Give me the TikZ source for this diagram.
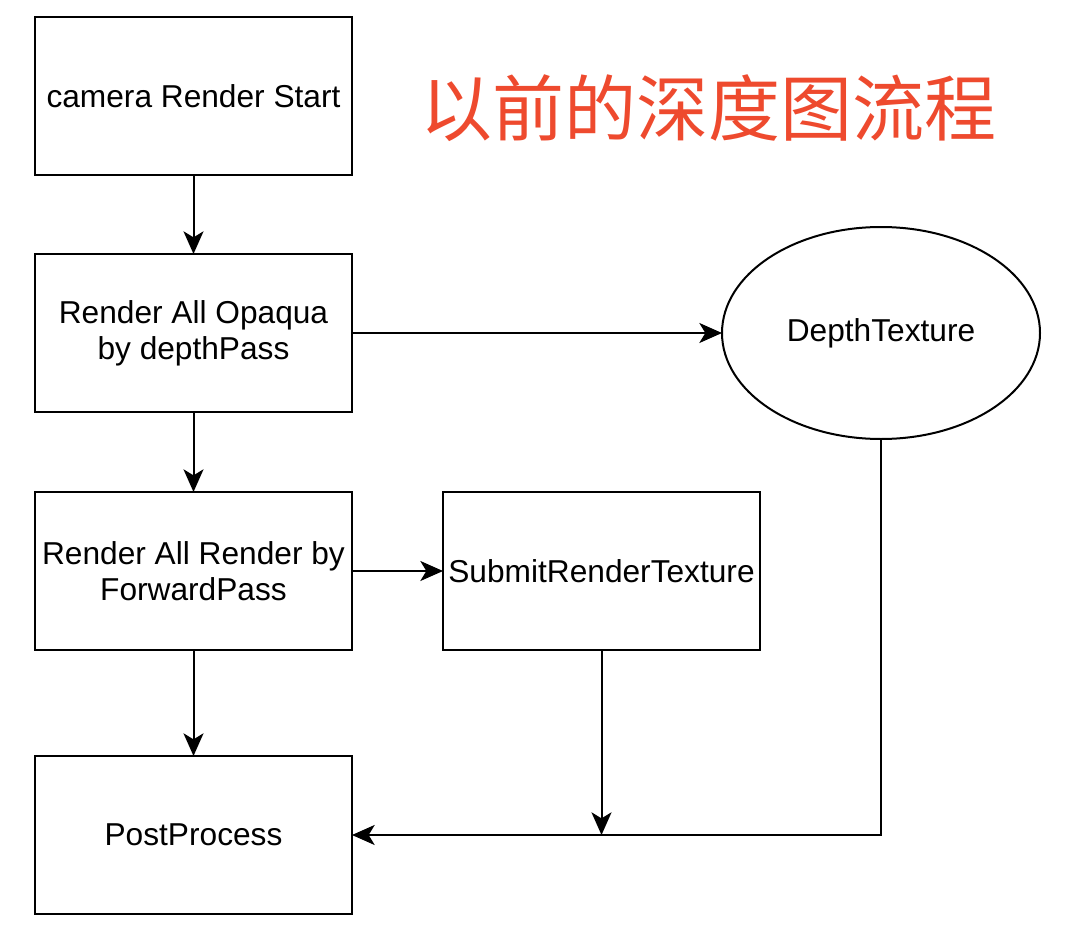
\documentclass[tikz,border=0pt]{standalone}
\usepackage{fontspec}
\setmainfont{Liberation Sans}
\newfontfamily\cjk{Noto Sans CJK SC}
\usetikzlibrary{shapes.geometric, arrows.meta, positioning}
\definecolor{titlered}{HTML}{EE4A2E}

\begin{document}
\begin{tikzpicture}[
			node distance=59.25pt,
			font=\fontsize{23.75pt}{27pt}\selectfont,
			line width=1.5pt,
			outer sep=0pt,
			box/.style={draw, minimum width=237.75pt, minimum height=118.5pt,
				align=center, inner sep=2pt},
			arr/.style={-{Stealth[length=17pt, width=15pt, inset=4.5pt]}}
			]
			\useasboundingbox (0,0) rectangle (802.5pt,-703.5pt);

			\node[box, anchor=north west] (start) at (26.25pt,-12.75pt) {camera Render Start};
			\node[box, below=of start] (opaque) {Render All Opaqua\\by depthPass};
			\node[box, below=60pt of opaque] (forward) {Render All Render by\\ForwardPass};
			\node[box, below=79.5pt of forward] (post) {PostProcess};
			\node[box, right=68.25pt of forward] (submit) {SubmitRenderTexture};
			\node[draw, ellipse, minimum width=238.5pt, minimum height=159pt, inner sep=0pt,
				right=277.5pt of opaque] (depth) {DepthTexture};

			\node[text=titlered, font=\cjk\fontsize{54pt}{60pt}\selectfont] (title) at (531pt,-81pt) {以前的深度图流程};

			\foreach \a/\b in {start/opaque, opaque/forward, forward/post} {
				\draw[arr] (\a) -- (\b);
			}
			\draw[arr] (opaque) -- (depth);
			\draw[arr] (forward) -- (submit);
			\draw[arr] (depth.south) |- (post.east);
			\draw[arr] (submit.south) -- (submit.south |- post.east);

		\end{tikzpicture}
\end{document}
